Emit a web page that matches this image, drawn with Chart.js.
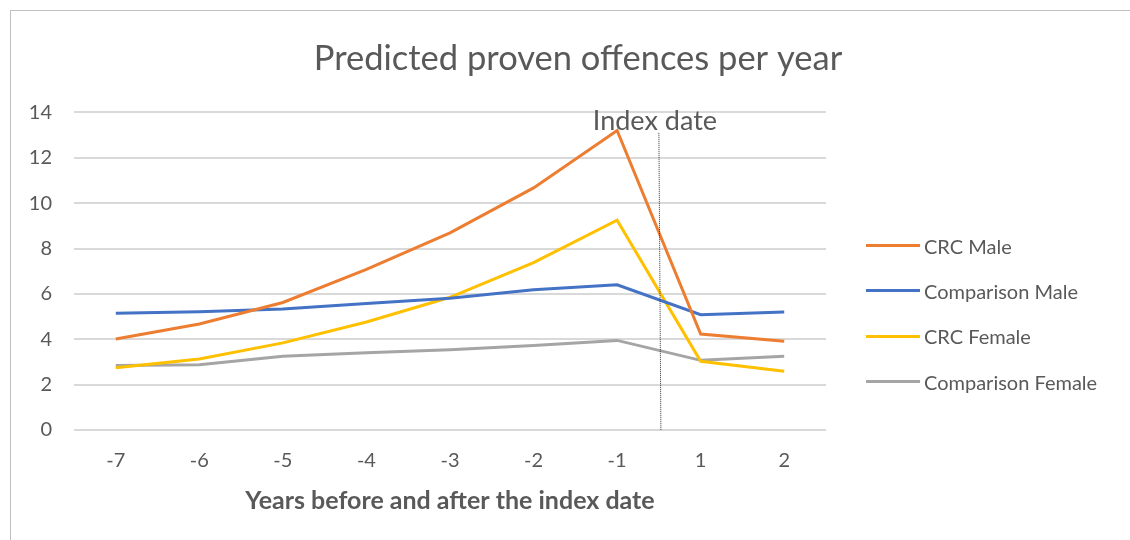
<!DOCTYPE html>
<html>
<head>
<meta charset="utf-8">
<script src="https://cdn.jsdelivr.net/npm/chart.js@4/dist/chart.umd.min.js"></script>
<style>
  body { margin: 0; background: #fff; }
  #wrap { position: relative; width: 1130px; height: 540px; overflow: hidden; }
  #frame { position: absolute; left: 10px; top: 10px; width: 1130px; height: 540px; border: 1px solid #bfbfbf; box-sizing: border-box; }
  canvas { position: absolute; left: 0; top: 0; }
  #legend { position: absolute; left: 866px; top: 223px; font: 20px Lato, "Open Sans", sans-serif; color: #595959; }
  .item { height: 45.3px; display: flex; align-items: center; white-space: nowrap; }
  .swatch { width: 54px; height: 3px; margin-right: 4px; }
</style>
</head>
<body>
<div id="wrap">
  <div id="frame"></div>
  <canvas id="chart" width="1130" height="540"></canvas>
  <div id="legend"></div>
</div>
<script>
// Data
const years = ['-7', '-6', '-5', '-4', '-3', '-2', '-1', '1', '2'];
const crcMale = [4.01, 4.67, 5.62, 7.08, 8.69, 10.67, 13.2, 4.23, 3.91];
const comparisonMale = [5.15, 5.21, 5.33, 5.58, 5.81, 6.18, 6.4, 5.08, 5.2];
const crcFemale = [2.74, 3.13, 3.84, 4.76, 5.85, 7.38, 9.25, 3.03, 2.59];
const comparisonFemale = [2.84, 2.88, 3.25, 3.4, 3.54, 3.72, 3.95, 3.07, 3.25];
const yTicks = [0, 2, 4, 6, 8, 10, 12, 14];
const indexLineTop = 13.1; // where the dotted marker stops

const fontFamily = 'Lato, "Open Sans", sans-serif';
const textColor = '#595959';

// dotted "Index date" marker between -1 and 1
const indexLine = {
    id: 'indexLine',
    afterDatasetsDraw(chart) {
        const { ctx, scales: { x, y } } = chart;
        const lx = (x.getPixelForValue(6) + x.getPixelForValue(7)) / 2;
        ctx.save();
        ctx.strokeStyle = '#303030';
        ctx.lineWidth = 1;
        ctx.setLineDash([1, 1]);
        ctx.beginPath();
        ctx.moveTo(lx, y.getPixelForValue(indexLineTop));
        ctx.lineTo(lx + 2, y.getPixelForValue(0));
        ctx.stroke();
        ctx.setLineDash([]);
        ctx.fillStyle = textColor;
        ctx.font = '27px ' + fontFamily;
        ctx.textAlign = 'center';
        ctx.textBaseline = 'middle';
        ctx.fillText('Index date', lx - 4, y.getPixelForValue(14) + 9);
        ctx.restore();
    }
};

function line(label, data, color) {
    return {
        label, data,
        borderColor: color,
        backgroundColor: color,
        borderWidth: 3,
        pointRadius: 0,
        tension: 0
    };
}

const chart = new Chart(document.getElementById('chart'), {
    type: 'line',
    data: {
        labels: years,
        datasets: [
            line('CRC Male', crcMale, '#ED7D31'),
            line('Comparison Male', comparisonMale, '#4472C4'),
            line('CRC Female', crcFemale, '#FFC000'),
            line('Comparison Female', comparisonFemale, '#A5A5A5')
        ]
    },
    options: {
        responsive: false,
        animation: false,
        layout: { padding: { left: 26, right: 0, top: 0, bottom: 24 } },
        plugins: {
            title: {
                display: true,
                text: 'Predicted proven offences per year',
                color: textColor,
                font: { family: fontFamily, size: 34.5, weight: 'normal' },
                padding: { top: 38, bottom: 33 }
            },
            legend: { display: false },
            tooltip: { enabled: false }
        },
        scales: {
            x: {
                offset: true,
                grid: { display: false },
                border: { display: false },
                ticks: { color: textColor, font: { family: fontFamily, size: 20 }, padding: 11 },
                title: {
                    display: true,
                    text: 'Years before and after the index date',
                    color: textColor,
                    font: { family: fontFamily, size: 25, weight: 'bold' },
                    padding: { top: 2, bottom: 0 }
                }
            },
            y: {
                min: 0,
                max: 14,
                afterBuildTicks(axis) { axis.ticks = yTicks.map(v => ({ value: v })); },
                afterFit(axis) { axis.width = 48; },
                grid: { color: '#d9d9d9', lineWidth: 2, drawTicks: false },
                border: { display: false },
                ticks: { color: textColor, font: { family: fontFamily, size: 20 }, padding: 22 }
            },
            // empty scale on the right that keeps room for the legend
            legendSpace: {
                type: 'linear',
                position: 'right',
                afterFit(axis) { axis.width = 304; },
                grid: { display: false },
                border: { display: false },
                ticks: { display: false }
            }
        }
    },
    plugins: [indexLine]
});

// Legend built from the datasets
const legendEl = document.getElementById('legend');
chart.data.datasets.forEach(ds => {
    const item = document.createElement('div');
    item.className = 'item';
    const sw = document.createElement('span');
    sw.className = 'swatch';
    sw.style.background = ds.borderColor;
    item.appendChild(sw);
    item.appendChild(document.createTextNode(ds.label));
    legendEl.appendChild(item);
});
</script>
</body>
</html>
